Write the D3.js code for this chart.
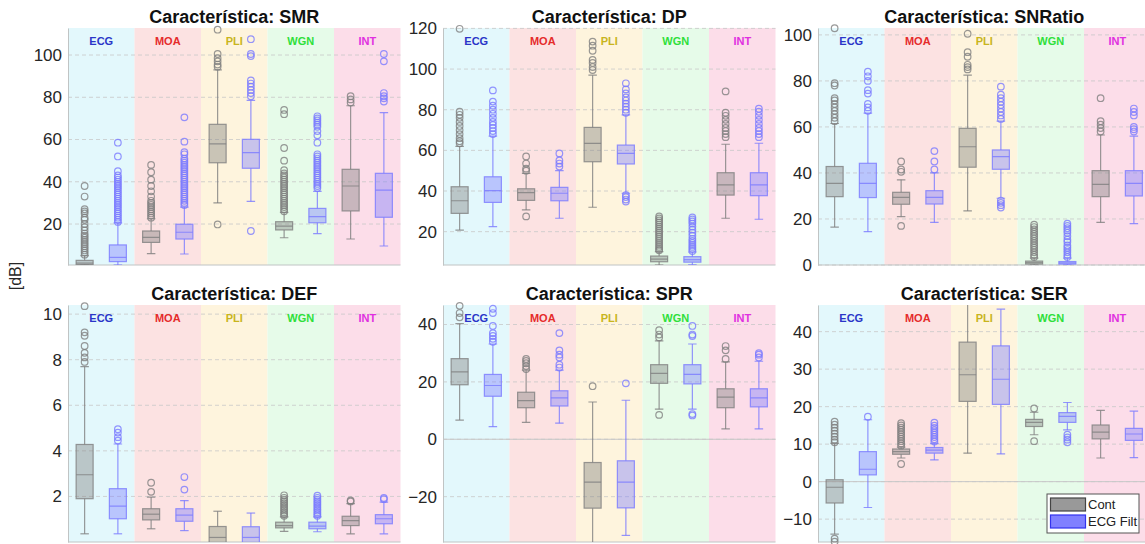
<!DOCTYPE html>
<html>
<head>
<meta charset="utf-8">
<script src="https://cdn.jsdelivr.net/npm/d3@7"></script>
<style>
  body { margin: 0; background: #fff; }
  svg { display: block; font-family: "Liberation Sans", Arial, Helvetica, sans-serif; }
</style>
</head>
<body>
<svg></svg>
<script>
// categories
const features = ["SMR", "DP", "SNRatio", "DEF", "SPR", "SER"];
const groups = ["ECG", "MOA", "PLI", "WGN", "INT"];
const series = ["Cont", "ECG Filt"];

// y ranges and tick labels
const yDomains = [[0.6, 112.8], [3.6, 120.2], [0, 103], [0, 10.4], [-35.8, 46.8], [-16.1, 47.1]];
const yTicks = [
  [20, 40, 60, 80, 100],
  [20, 40, 60, 80, 100, 120],
  [0, 20, 40, 60, 80, 100],
  [2, 4, 6, 8, 10],
  [-20, 0, 20, 40],
  [-10, 0, 10, 20, 30, 40]
];

// box stats [whisker low, q1, median, q3, whisker high]
// order: ECG Cont, ECG Filt, MOA Cont, MOA Filt, PLI Cont, PLI Filt, WGN Cont, WGN Filt, INT Cont, INT Filt
const smrStats = [
  [0.6, 0.8, 1.5, 2.8, 5], [0.6, 2.2, 4.2, 10.1, 20.5],
  [6, 11.3, 13.7, 16.7, 22.5], [5.8, 12.9, 16.1, 19.9, 28],
  [30, 49, 57.9, 67.2, 93], [30.7, 46.4, 53.8, 60.1, 78.5],
  [13.5, 17.2, 19, 21.1, 25.5], [15.5, 20.6, 23.5, 27.4, 35.5],
  [12.9, 26.2, 38, 45.9, 76], [9.6, 23.2, 36, 44, 72.7]
];
const smrOutliers = [
  [5.5, 6.5, 7.5, 8.5, 9.5, 10.5, 11.5, 12.5, 13.5, 14.5, 15.5, 17, 18.5, 20, 22, 23, 25, 26, 27, 33, 38],
  [21, 22, 23, 24, 25, 26, 27, 28, 29, 30, 31, 32, 33, 34, 35, 36, 37, 38, 39, 40, 41, 42, 43, 45, 52, 58.5],
  [23, 24, 25, 26, 27, 28, 29, 30, 31, 33, 35.5, 38, 41, 44.5, 48],
  [29, 30, 31, 32, 33, 34, 35, 36, 37, 38, 39, 40, 41, 42, 43, 44, 45, 46, 47, 48, 49, 50, 51, 53, 54, 59, 70.5],
  [19.8, 94.5, 95.5, 97, 98.5, 100.5, 112],
  [16.7, 80.5, 82, 83.5, 85, 86.5, 88, 99.5, 100.5, 107.5],
  [26, 27, 28, 29, 30, 31, 32, 33, 34, 35, 36, 37, 38, 39, 40, 41, 42, 43, 44, 45.5, 50, 56, 72, 74],
  [37, 38, 39, 40, 41, 42, 43, 44, 45, 46, 47, 48, 49, 50, 51, 52, 53, 58.5, 62, 64, 66, 67, 68, 69, 70, 71],
  [77.5, 79, 80.5],
  [78, 79.5, 80.5, 82, 97, 100.5]
];

const dpStats = [
  [20.8, 29, 35.2, 42.1, 62], [22.5, 34.4, 40.2, 47, 67],
  [30.7, 35.4, 39.2, 41.1, 48.7], [26.6, 35.2, 38.9, 41.8, 50],
  [32, 54.4, 63.4, 71.3, 97], [38.9, 53.3, 58.5, 62.6, 77.5],
  [3.6, 5.2, 6.5, 8, 10.2], [3.7, 5, 6.2, 7.7, 10],
  [26.6, 38, 43, 49, 63], [26.1, 37.7, 43, 49, 63.5]
];
const dpOutliers = [
  [63.5, 64.5, 66, 68, 70, 72, 74, 76, 77.5, 79, 119.8],
  [68, 69.5, 71, 72.5, 74, 76, 78, 80, 82, 84, 89.5],
  [27.5, 50, 51, 53.5, 57],
  [52, 53.5, 55, 58.5],
  [99.5, 101, 103, 104.5, 109, 111.5, 113.5],
  [34.8, 35.8, 37, 38, 78.5, 80, 81.5, 83, 84.5, 86, 88, 90, 93],
  [10.8, 11.5, 12.5, 13.5, 14.5, 15.5, 16.5, 17.5, 18.5, 19.5, 20.5, 21.5, 22.5, 23.5, 24.5, 25.5, 26.5, 27.5],
  [10.5, 11.5, 12.5, 13.5, 14.5, 15.5, 16.5, 18, 19.5, 21, 22.5, 24, 25, 26, 27],
  [66.5, 68, 69.5, 71, 73, 75, 77, 78.5, 89],
  [66.5, 68, 69.5, 71, 73, 75, 77, 79, 80.5]
];

const snrStats = [
  [16.5, 29.7, 35.5, 42.8, 61.5], [14.5, 29.3, 35.5, 44.2, 66],
  [21, 26.4, 29.4, 31.6, 37], [18.5, 26.5, 29.4, 32.3, 40],
  [23.5, 42.5, 51.4, 59.4, 82.5], [29, 41.6, 47.1, 50, 62.5],
  [0, 0.4, 1, 1.7, 3], [0, 0.4, 0.9, 1.5, 3],
  [18.5, 29.7, 35, 41, 56.5], [18, 30, 35.5, 41, 56]
];
const snrOutliers = [
  [62.5, 64, 65.5, 67, 68.5, 70, 71.5, 72.5, 78, 79, 102.9],
  [67, 68.5, 70, 74.5, 76, 80, 82, 84],
  [17, 40.5, 41.5, 45],
  [41.5, 45, 49.5],
  [85, 86, 87, 90.5, 92.5, 100.5],
  [25, 26, 27, 28, 63.5, 65, 66.5, 68, 69.5, 71, 72.5, 74, 77.5],
  [3.5, 4.5, 5.5, 6.5, 7.5, 8.5, 9.5, 10.5, 11.5, 12.5, 13.5, 14.5, 15.5, 16.5, 17.5],
  [3.5, 4.5, 5.5, 6.5, 7.5, 8.5, 10, 11, 12.5, 14, 15, 16, 17, 18],
  [58, 59.5, 61, 62.5, 72.5],
  [58, 59, 60, 65, 66.5, 68]
];

const defStats = [
  [0.36, 1.9, 2.95, 4.28, 7.7], [0.36, 1.02, 1.57, 2.34, 4.3],
  [0.58, 0.97, 1.22, 1.46, 1.97], [0.5, 0.91, 1.18, 1.46, 1.82],
  [-0.6, -0.1, 0.2, 0.68, 1.35], [-0.6, -0.1, 0.2, 0.67, 1.27],
  [0.47, 0.62, 0.72, 0.87, 1.1], [0.45, 0.58, 0.7, 0.87, 1.1],
  [0.36, 0.72, 0.94, 1.13, 1.68], [0.36, 0.8, 1.02, 1.2, 1.75]
];
const defOutliers = [
  [7.9, 8.1, 8.3, 8.6, 9.05, 9.2, 10.35],
  [4.45, 4.6, 4.8, 4.95],
  [2.2, 2.6],
  [2.3, 2.85],
  [],
  [],
  [1.15, 1.22, 1.3, 1.38, 1.46, 1.54, 1.62, 1.7, 1.78, 1.86, 1.94, 2.05],
  [1.15, 1.22, 1.3, 1.38, 1.46, 1.54, 1.62, 1.7, 1.78, 1.86, 1.94, 2.03],
  [1.78, 1.82],
  [1.88, 1.93]
];

const sprStats = [
  [6.7, 19, 23.5, 28.1, 40.3], [4.4, 15, 18.75, 22.6, 33.2],
  [5.9, 11, 13.5, 16.4, 24.1], [5.6, 11.6, 14.4, 16.9, 24.1],
  [-40, -24, -14.9, -8.1, 13], [-33.5, -23.9, -14.9, -7.5, 13.6],
  [10.5, 19.5, 23, 26, 34.3], [10.5, 19.3, 22.6, 26, 33.2],
  [3.6, 11, 14.7, 17.6, 27], [3.6, 11.3, 14.4, 17.6, 27.2]
];
const sprOutliers = [
  [42.5, 44, 46.5],
  [34, 35, 36, 37, 39.5, 44, 45.5],
  [24.5, 25.5, 26.5, 27.3, 28],
  [25, 26, 28.5, 29.5, 31, 37],
  [18.5],
  [19.5],
  [8.5, 35.5, 36.5, 38],
  [8.3, 8.8, 36, 36.5, 39.5],
  [28, 31, 32.5],
  [28.5, 29.5, 30]
];

const serStats = [
  [-14, -5.7, -1.5, 0.5, 10.2], [-6.9, 1.8, 3.3, 8, 16.5],
  [6.3, 7.3, 8, 8.7, 9.2], [5.8, 7.6, 8.4, 9.1, 10.2],
  [7.6, 21.4, 28.5, 37.2, 50], [7.4, 20.6, 27.3, 36.2, 46],
  [12.5, 14.7, 15.8, 16.6, 18.5], [13.8, 15.8, 17.4, 18.4, 21.1],
  [6.3, 11.4, 13.2, 15.1, 19], [6.4, 11, 12.7, 14.2, 18.8]
];
const serOutliers = [
  [10.5, 11.2, 12, 12.8, 13.6, 14.4, 15.2, 16, -15.2, -16],
  [17.3],
  [4.7, 9.6, 10.2, 10.8, 11.4, 12, 12.6, 13.2, 13.8, 14.4, 15, 15.6],
  [10.7, 11.3, 11.9, 12.5, 13.1, 13.7, 14.3, 14.9, 15.7],
  [],
  [],
  [10.8, 19.5],
  [10.5, 11.2, 11.8, 12.5],
  [],
  []
];

const allStats = [smrStats, dpStats, snrStats, defStats, sprStats, serStats];
const allOutliers = [smrOutliers, dpOutliers, snrOutliers, defOutliers, sprOutliers, serOutliers];

// styles
const bandColors = ["#e3f8fc", "#fce2e2", "#fef4dd", "#e6fbe9", "#fcdde9"];
const labelColors = ["#2a35c8", "#e52b2b", "#c8b41e", "#2ee03a", "#e030e0"];
const seriesStroke = ["#808080", "#7b7bff"];
const seriesFill = ["#808080", "#7f7fff"];

const width = 1145, height = 544;
const colX = [68, 443, 818];
const rowY = [28, 305];
const panelW = 332.5, panelH = 237;

const svg = d3.select("svg")
  .attr("width", width)
  .attr("height", height);
const defs = svg.append("defs");

features.forEach((name, k) => {
  const x0 = colX[k % 3];
  const y0 = rowY[Math.floor(k / 3)];
  const g = svg.append("g").attr("transform", `translate(${x0},${y0})`);

  const x = d3.scaleBand().domain(groups).range([0, panelW]);
  const xs = d3.scaleBand().domain(series).range([0, x.bandwidth()]);
  const y = d3.scaleLinear().domain(yDomains[k]).range([panelH, 0]);
  const bw = 17;

  defs.append("clipPath").attr("id", "clip" + k)
    .append("rect").attr("width", panelW).attr("height", panelH);

  //bands
  g.selectAll("rect.band")
    .data(groups)
    .join("rect")
    .attr("class", "band")
    .attr("x", d => x(d))
    .attr("width", x.bandwidth())
    .attr("height", panelH)
    .attr("fill", (d, i) => bandColors[i]);

  //grid
  g.selectAll("line.grid")
    .data(yTicks[k])
    .join("line")
    .attr("class", "grid")
    .attr("x1", 0).attr("x2", panelW)
    .attr("y1", d => y(d)).attr("y2", d => y(d))
    .attr("stroke", "#c8c8c8")
    .attr("stroke-width", 0.8)
    .attr("stroke-dasharray", "4,3");

  if (yDomains[k][0] < 0) {
    g.append("line")
      .attr("x1", 0).attr("x2", panelW)
      .attr("y1", y(0)).attr("y2", y(0))
      .attr("stroke", "#c8c8c8")
      .attr("stroke-width", 1);
  }

  //axis
  const yAxis = d3.axisLeft(y).tickValues(yTicks[k]).tickSize(0).tickSizeOuter(0).tickPadding(6);
  const ax = g.append("g").call(yAxis);
  ax.select(".domain").attr("stroke", "#c0c4c4");
  ax.selectAll("text")
    .attr("font-size", 17)
    .attr("fill", "#262626")
    .attr("font-family", "'Liberation Sans', Arial, sans-serif");
  g.append("line")
    .attr("x1", 0).attr("x2", panelW)
    .attr("y1", panelH).attr("y2", panelH)
    .attr("stroke", "#c0c4c4");

  //group labels
  g.selectAll("text.grp")
    .data(groups)
    .join("text")
    .attr("class", "grp")
    .attr("x", d => x(d) + x.bandwidth() / 2)
    .attr("y", 17)
    .attr("text-anchor", "middle")
    .attr("font-size", 11)
    .attr("font-weight", "bold")
    .attr("fill", (d, i) => labelColors[i])
    .text(d => d);

  //title
  g.append("text")
    .attr("x", panelW / 2)
    .attr("y", -5)
    .attr("text-anchor", "middle")
    .attr("font-size", 18)
    .attr("font-weight", "bold")
    .attr("fill", "#111")
    .text("Característica: " + name);

  //boxes
  const boxes = allStats[k].map((s, i) => ({
    group: groups[Math.floor(i / 2)],
    si: i % 2,
    s: s,
    out: allOutliers[k][i]
  }));
  const cx = d => x(d.group) + xs(series[d.si]) + xs.bandwidth() / 2;

  const plot = g.append("g").attr("clip-path", `url(#clip${k})`);
  const bx = plot.selectAll("g.box")
    .data(boxes)
    .join("g")
    .attr("class", "box")
    .attr("stroke", d => seriesStroke[d.si])
    .attr("stroke-opacity", 0.8)
    .attr("stroke-width", 1.2);

  bx.append("line")
    .attr("x1", cx).attr("x2", cx)
    .attr("y1", d => y(d.s[0])).attr("y2", d => y(d.s[1]));
  bx.append("line")
    .attr("x1", cx).attr("x2", cx)
    .attr("y1", d => y(d.s[3])).attr("y2", d => y(d.s[4]));
  bx.append("line")
    .attr("x1", d => cx(d) - bw / 4).attr("x2", d => cx(d) + bw / 4)
    .attr("y1", d => y(d.s[0])).attr("y2", d => y(d.s[0]));
  bx.append("line")
    .attr("x1", d => cx(d) - bw / 4).attr("x2", d => cx(d) + bw / 4)
    .attr("y1", d => y(d.s[4])).attr("y2", d => y(d.s[4]));
  bx.append("rect")
    .attr("x", d => cx(d) - bw / 2)
    .attr("width", bw)
    .attr("y", d => y(d.s[3]))
    .attr("height", d => y(d.s[1]) - y(d.s[3]))
    .attr("fill", d => seriesFill[d.si])
    .attr("fill-opacity", 0.42);
  bx.append("line")
    .attr("x1", d => cx(d) - bw / 2).attr("x2", d => cx(d) + bw / 2)
    .attr("y1", d => y(d.s[2])).attr("y2", d => y(d.s[2]));

  //outliers (marker shown when its centre is inside the axes)
  const [lo, hi] = yDomains[k];
  const pts = boxes.flatMap(d => d.out.filter(v => v >= lo && v <= hi).map(v => ({ v, d })));
  g.selectAll("circle.out")
    .data(pts)
    .join("circle")
    .attr("class", "out")
    .attr("cx", p => cx(p.d))
    .attr("cy", p => y(p.v))
    .attr("r", 3.3)
    .attr("fill", "none")
    .attr("stroke", p => seriesStroke[p.d.si])
    .attr("stroke-opacity", 0.8)
    .attr("stroke-width", 1.2);
});

// y label
svg.append("text")
  .attr("transform", "translate(21,276) rotate(-90)")
  .attr("text-anchor", "middle")
  .attr("font-size", 16)
  .attr("fill", "#262626")
  .text("[dB]");

// legend
const legend = svg.append("g").attr("transform", "translate(1047,494)");
legend.append("rect")
  .attr("width", 92).attr("height", 39)
  .attr("fill", "#fff")
  .attr("stroke", "#555")
  .attr("stroke-width", 1);
const legendFill = ["#999999", "#8080ff"];
const legendStroke = ["#444444", "#3333ee"];
series.forEach((s, i) => {
  legend.append("rect")
    .attr("x", 3.5).attr("y", 4 + i * 17)
    .attr("width", 35).attr("height", 13)
    .attr("fill", legendFill[i])
    .attr("stroke", legendStroke[i])
    .attr("stroke-width", 1.2);
  legend.append("text")
    .attr("x", 41).attr("y", 15 + i * 17)
    .attr("font-size", 13)
    .attr("fill", "#222")
    .text(s);
});
</script>
</body>
</html>
